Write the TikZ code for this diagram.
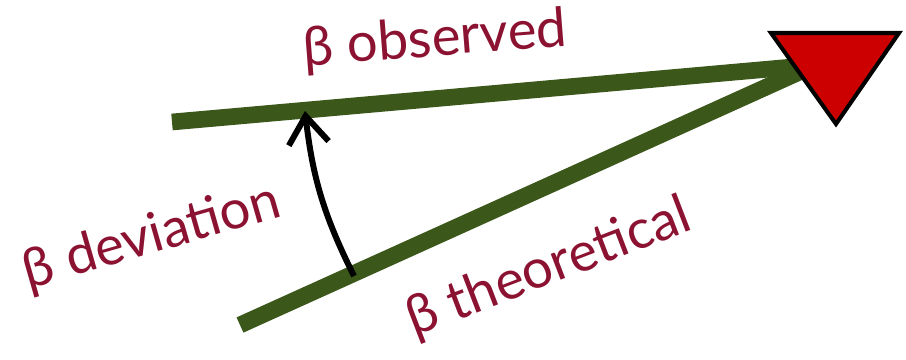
\documentclass[tikz,border=0pt]{standalone}
\usepackage{fontspec}
\setmainfont{Lato}
\usetikzlibrary{arrows.meta}
\definecolor{beam}{RGB}{59,87,26}
\definecolor{lbl}{RGB}{140,18,50}
\definecolor{tri}{RGB}{204,0,0}
\begin{document}
\begin{tikzpicture}[x=.02cm,y=.02cm,line width=9.5pt]
\useasboundingbox (0,0) rectangle (906,359);
\coordinate (V) at (815,294); \coordinate (O) at (172,237); \coordinate (T) at (240,34);
\coordinate (P) at (354,83); \coordinate (Q) at (305,248);
\draw[beam] (O)--(V); \draw[beam] (T)--(V);
\draw[black,line width=3.4pt,-{Straight Barb[length=5.5mm,width=8mm]}] (P) to[bend left=10] (Q);
\filldraw[fill=tri,line width=2.3pt,line join=miter] (771,326)--(899,326)--(836,235)--cycle;
\foreach \n/\t/\x/\y/\r in {obs/observed/435/318/4.5, dev/deviation/152/121/16, theo/theoretical/549/90/21}
  \node[lbl,font=\fontsize{31}{32}\selectfont,rotate=\r] (\n) at (\x,\y) {β \t};
\end{tikzpicture}
\end{document}
